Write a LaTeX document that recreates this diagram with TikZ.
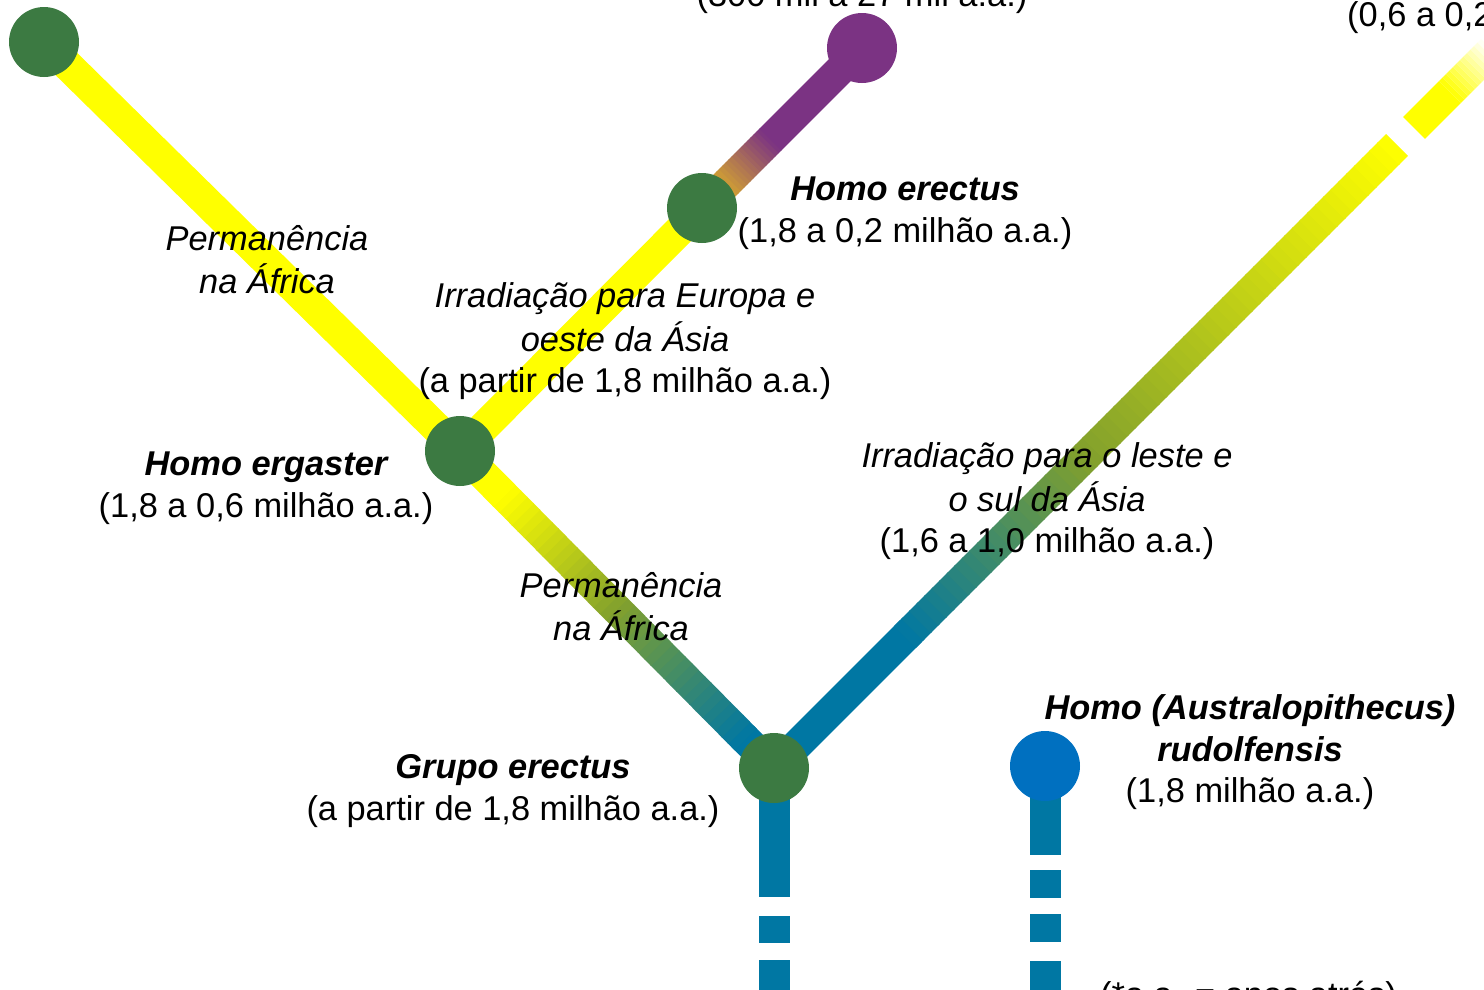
\documentclass[tikz,border=0pt]{standalone}
\usepackage{fontspec}
\setmainfont{Liberation Sans}
\usetikzlibrary{calc}
\definecolor{tealb}{RGB}{0,119,163}
\definecolor{olv}{RGB}{130,160,45}
\definecolor{yel}{RGB}{255,255,0}
\definecolor{grn}{RGB}{60,122,66}
\definecolor{pur}{RGB}{123,51,131}
\definecolor{org}{RGB}{205,155,55}
\definecolor{blu}{RGB}{0,112,192}
% #1,#2 end points, #3,#4 fractions, #5,#6 colours, #7 steps
\newcommand\gradline[7]{%
  \foreach \i in {1,...,#7}{%
    \pgfmathsetmacro\ta{#3+(#4-#3)*(\i-1)/#7}%
    \pgfmathsetmacro\tb{#3+(#4-#3)*\i/#7+0.002}%
    \pgfmathsetmacro\pc{100*(\i-0.5)/#7}%
    \draw[line, draw=#6!\pc!#5] ($(#1)!\ta!(#2)$) -- ($(#1)!\tb!(#2)$);
  }}
\begin{document}
\begin{tikzpicture}[x=1pt,y=-1pt,
  line/.style={line width=31pt, line cap=butt},
  dot/.style={circle, inner sep=0pt, minimum size=70pt, fill=grn, draw=none},
  lbl/.style={inner sep=0pt, align=center, font=\fontsize{34.4}{41.5}\selectfont}]
\useasboundingbox (0,0) rectangle (1484,989);
\clip (0,0) rectangle (1484,989);
% centres
\coordinate (pTL) at (44,42);
\coordinate (pE) at (460,451);
\coordinate (pH) at (702,208);
\coordinate (pP) at (862,48);
\coordinate (pG) at (774,768);
\coordinate (pR) at (1045,766);
\coordinate (pA) at (1397,145);
\coordinate (pB) at (1414,128);
\coordinate (pF) at (1450,92);
\coordinate (pC) at (1492,50);
\coordinate (pGb) at (774,1000);
\coordinate (pRb) at (1045,1000);
% branches
\draw[line, yel] (pTL) -- (pE);
\draw[line, yel] (pE) -- (pH);
\draw[line, org] (pH) -- ($(pH)!0.16!(pP)$);
\gradline{pH}{pP}{0.155}{0.43}{org}{pur}{14}
\draw[line, pur] ($(pH)!0.428!(pP)$) -- (pP);
% Grupo erectus -> ergaster
\draw[line, tealb] (pG) -- ($(pG)!0.1!(pE)$);
\gradline{pG}{pE}{0.09}{0.5}{tealb}{olv}{20}
\gradline{pG}{pE}{0.5}{0.86}{olv}{yel}{18}
\draw[line, yel] ($(pG)!0.858!(pE)$) -- (pE);
% Grupo erectus -> east
\draw[line, tealb] (pG) -- ($(pG)!0.22!(pA)$);
\gradline{pG}{pA}{0.21}{0.5}{tealb}{olv}{24}
\gradline{pG}{pA}{0.5}{0.998}{olv}{yel}{40}
\draw[line, yel] (pB) -- (pF);
\gradline{pF}{pC}{0}{1}{yel}{white}{12}
% dashed stems
\draw[line, tealb, dash pattern=on 129pt off 19pt on 27pt off 17pt on 80pt off 10pt] (pG) -- (pGb);
\draw[line, tealb, dash pattern=on 89pt off 15pt on 28pt off 16pt on 28pt off 19pt on 80pt off 10pt] (pR) -- (pRb);
% circles
\node[dot] (nTL) at (pTL) {};
\node[dot] (nE) at (pE) {};
\node[dot] (nH) at (pH) {};
\node[dot, fill=pur] (nP) at (pP) {};
\node[dot] (nG) at (pG) {};
\node[dot, fill=blu] (nR) at (pR) {};
% labels
\node[lbl] (t1) at (267,264) {\itshape\strut Permanência\\\itshape\strut na África};
\node[lbl] (t2) at (905,213) {\bfseries\itshape\strut Homo erectus\\\strut(1,8 a 0,2 milhão a.a.)};
\node[lbl] (t3) at (625,342) {\itshape\strut Irradiação para Europa e\\\itshape\strut oeste da Ásia\\\strut(a partir de 1,8 milhão a.a.)};
\node[lbl] (t4) at (266,488) {\bfseries\itshape\strut Homo ergaster\\\strut(1,8 a 0,6 milhão a.a.)};
\node[lbl] (t5) at (1047,502) {\itshape\strut Irradiação para o leste e\\\itshape\strut o sul da Ásia\\\strut(1,6 a 1,0 milhão a.a.)};
\node[lbl] (t6) at (621,611) {\itshape\strut Permanência\\\itshape\strut na África};
\node[lbl] (t7) at (513,791) {\bfseries\itshape\strut Grupo erectus\\\strut(a partir de 1,8 milhão a.a.)};
\node[lbl] (t8) at (1250,753) {\bfseries\itshape\strut Homo (Australopithecus)\\\bfseries\itshape\strut rudolfensis\\\strut(1,8 milhão a.a.)};
\node[lbl] (t9) at (862,-2.25) {\strut(300 mil a 27 mil a.a.)};
\node[lbl, anchor=west] (t10) at (1347,17.75) {\strut(0,6 a 0,2 milhão a.a.)};
\node[lbl, anchor=west] (t11) at (1100,998) {\strut(*a.a. = anos atrás)};
\end{tikzpicture}
\end{document}
